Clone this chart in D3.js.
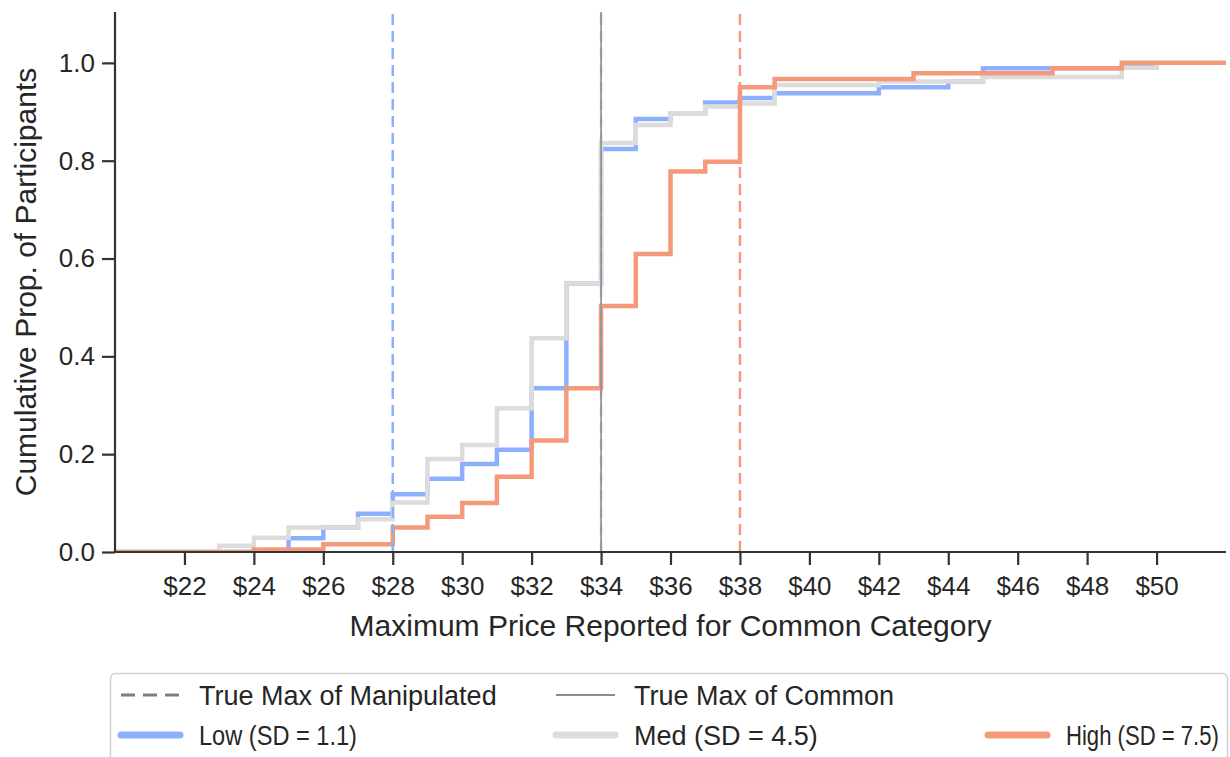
<!DOCTYPE html>
<html>
<head>
<meta charset="utf-8">
<script src="https://cdnjs.cloudflare.com/ajax/libs/d3/7.8.5/d3.min.js"></script>
<style>
  body { margin: 0; background: #fff; }
  text { font-family: "Liberation Sans", Arial, sans-serif; fill: #262626; }
</style>
</head>
<body>
<div id="element"></div>
<script>
//____________________________ DATA ____________________________
// price steps (x) and cumulative proportion after each step
var lowPrice  = [20, 25, 26, 27, 28, 29, 30, 31, 32, 33, 34, 35, 36, 37, 38, 39, 42, 44, 45, 47, 49, 50];
var lowProp   = [0, 0.028, 0.05, 0.078, 0.118, 0.15, 0.18, 0.209, 0.335, 0.549, 0.824, 0.885, 0.897, 0.919, 0.928, 0.938, 0.95, 0.962, 0.989, 0.989, 0.992, 1.0];

var medPrice  = [20, 23, 24, 25, 27, 28, 29, 30, 31, 32, 33, 34, 35, 36, 37, 38, 39, 42, 45, 49, 50];
var medProp   = [0, 0.013, 0.029, 0.05, 0.067, 0.101, 0.19, 0.219, 0.294, 0.437, 0.549, 0.836, 0.873, 0.897, 0.911, 0.917, 0.955, 0.962, 0.971, 0.99, 1.0];

var highPrice = [20, 24, 26, 28, 29, 30, 31, 32, 33, 34, 35, 36, 37, 38, 39, 43, 47, 49, 52];
var highProp  = [0, 0.005, 0.016, 0.05, 0.072, 0.10, 0.154, 0.228, 0.335, 0.503, 0.609, 0.778, 0.798, 0.95, 0.967, 0.979, 0.989, 1.0, 1.0];

var groupNames  = ["Low (SD = 1.1)", "Med (SD = 4.5)", "High (SD = 7.5)"];
var groupColors = ["#8db0fe", "#dddcdc", "#f49a7b"];
var manipMax    = [28, 34, 38];   // true max of manipulated category
var commonMax   = 34;             // true max of common category

var xTicks = [22, 24, 26, 28, 30, 32, 34, 36, 38, 40, 42, 44, 46, 48, 50];
var yTicks = [0, 0.2, 0.4, 0.6, 0.8, 1.0];

//_________________________ SVG size ___________________________
var width = 1230,
    height = 757;
var margin = { left: 115, right: 4, top: 12, bottom: 205 };

var svg = d3.select("#element")
  .append("svg")
  .attr("width", width)
  .attr("height", height);

//__________________________ scales ____________________________
var x = d3.scaleLinear().domain([20, 52]).range([margin.left, width - margin.right]);
var y = d3.scaleLinear().domain([0, 1.104]).range([height - margin.bottom, margin.top]);

var series = [
  { price: lowPrice,  prop: lowProp },
  { price: medPrice,  prop: medProp },
  { price: highPrice, prop: highProp }
];

svg.append("clipPath").attr("id", "plot")
  .append("rect")
  .attr("x", margin.left).attr("y", margin.top)
  .attr("width", width - margin.right - margin.left)
  .attr("height", height - margin.bottom - margin.top);

//______________________ step lines (ECDF) _____________________
var line = d3.line()
  .x(function (d) { return x(d[0]); })
  .y(function (d) { return y(d[1]); })
  .curve(d3.curveStepAfter);

var plot = svg.append("g").attr("clip-path", "url(#plot)");

series.forEach(function (s, i) {
  plot.append("path")
    .datum(d3.zip(s.price, s.prop))
    .attr("fill", "none")
    .attr("stroke", groupColors[i])
    .attr("stroke-width", 4.5)
    .attr("d", line);
});

//___________________ vertical reference lines _________________
var vColors = ["#8db0fe", "#c4c4c4", "#f49a7b"];
manipMax.forEach(function (m, i) {
  plot.append("line")
    .attr("x1", x(m)).attr("x2", x(m))
    .attr("y1", y(0)).attr("y2", margin.top)
    .attr("stroke", vColors[i])
    .attr("stroke-width", 2.5)
    .attr("stroke-dasharray", "11,6");
});

plot.append("line")
  .attr("x1", x(commonMax)).attr("x2", x(commonMax))
  .attr("y1", y(0)).attr("y2", margin.top)
  .attr("stroke", "#8c8c8c")
  .attr("stroke-width", 1.6);

//___________________________ axes _____________________________
var xAxis = svg.append("g")
  .attr("transform", "translate(0," + y(0) + ")")
  .call(d3.axisBottom(x).tickValues(xTicks).tickSize(13).tickPadding(12)
    .tickFormat(function (d) { return "$" + d; }));

var yAxis = svg.append("g")
  .attr("transform", "translate(" + margin.left + ",0)")
  .call(d3.axisLeft(y).tickValues(yTicks).tickSize(13).tickPadding(7)
    .tickFormat(d3.format(".1f")));

[xAxis, yAxis].forEach(function (a) {
  a.select(".domain").attr("stroke", "#333").attr("stroke-width", 2.2);
  a.selectAll(".tick line").attr("stroke", "#333").attr("stroke-width", 2.2);
  a.selectAll(".tick text").style("font-size", "26px").attr("fill", "#262626");
});
xAxis.select(".domain").attr("d", "M" + margin.left + ",0H" + (width - margin.right));
yAxis.select(".domain").attr("d", "M0," + y(0) + "V" + margin.top);

//__________________________ labels ____________________________
svg.append("text")
  .attr("x", (margin.left + width - margin.right) / 2)
  .attr("y", 636)
  .attr("text-anchor", "middle")
  .style("font-size", "30px")
  .text("Maximum Price Reported for Common Category");

svg.append("text")
  .attr("transform", "translate(36," + (margin.top + y(0)) / 2 + ") rotate(-90)")
  .attr("text-anchor", "middle")
  .style("font-size", "30px")
  .text("Cumulative Prop. of Participants");

//__________________________ legend ____________________________
var legend = svg.append("g");

legend.append("rect")
  .attr("x", 110.5).attr("y", 673.5)
  .attr("width", 1117).attr("height", 100)
  .attr("rx", 5)
  .attr("fill", "#fff")
  .attr("stroke", "#d0d0d0")
  .attr("stroke-width", 1.5);

// fit: squeeze some labels horizontally so the last column stays inside the frame
var legendItems = [
  { label: "True Max of Manipulated", color: "#808080", w: 3, dash: "14,8", cx: 118, cy: 695, fit: null },
  { label: "True Max of Common",      color: "#666666", w: 1.5, dash: null, cx: 553, cy: 695, fit: null },
  { label: groupNames[0], color: groupColors[0], w: 7, dash: null, cx: 118, cy: 735, fit: 158 },
  { label: groupNames[1], color: groupColors[1], w: 7, dash: null, cx: 553, cy: 735, fit: null },
  { label: groupNames[2], color: groupColors[2], w: 7, dash: null, cx: 985, cy: 735, fit: 153 }
];

legendItems.forEach(function (d) {
  legend.append("line")
    .attr("x1", d.cx + 3).attr("x2", d.cx + 62)
    .attr("y1", d.cy).attr("y2", d.cy)
    .attr("stroke", d.color)
    .attr("stroke-width", d.w)
    .attr("stroke-linecap", d.w > 5 ? "round" : "butt")
    .attr("stroke-dasharray", d.dash);
  var t = legend.append("text")
    .attr("transform", "translate(" + (d.cx + 81) + "," + (d.cy + 9.5) + ")")
    .style("font-size", "27px")
    .text(d.label);
  if (d.fit) {
    var sx = d.fit / t.node().getComputedTextLength();
    t.attr("transform", "translate(" + (d.cx + 81) + "," + (d.cy + 9.5) + ") scale(" + sx + ",1)");
  }
});
</script>
</body>
</html>
